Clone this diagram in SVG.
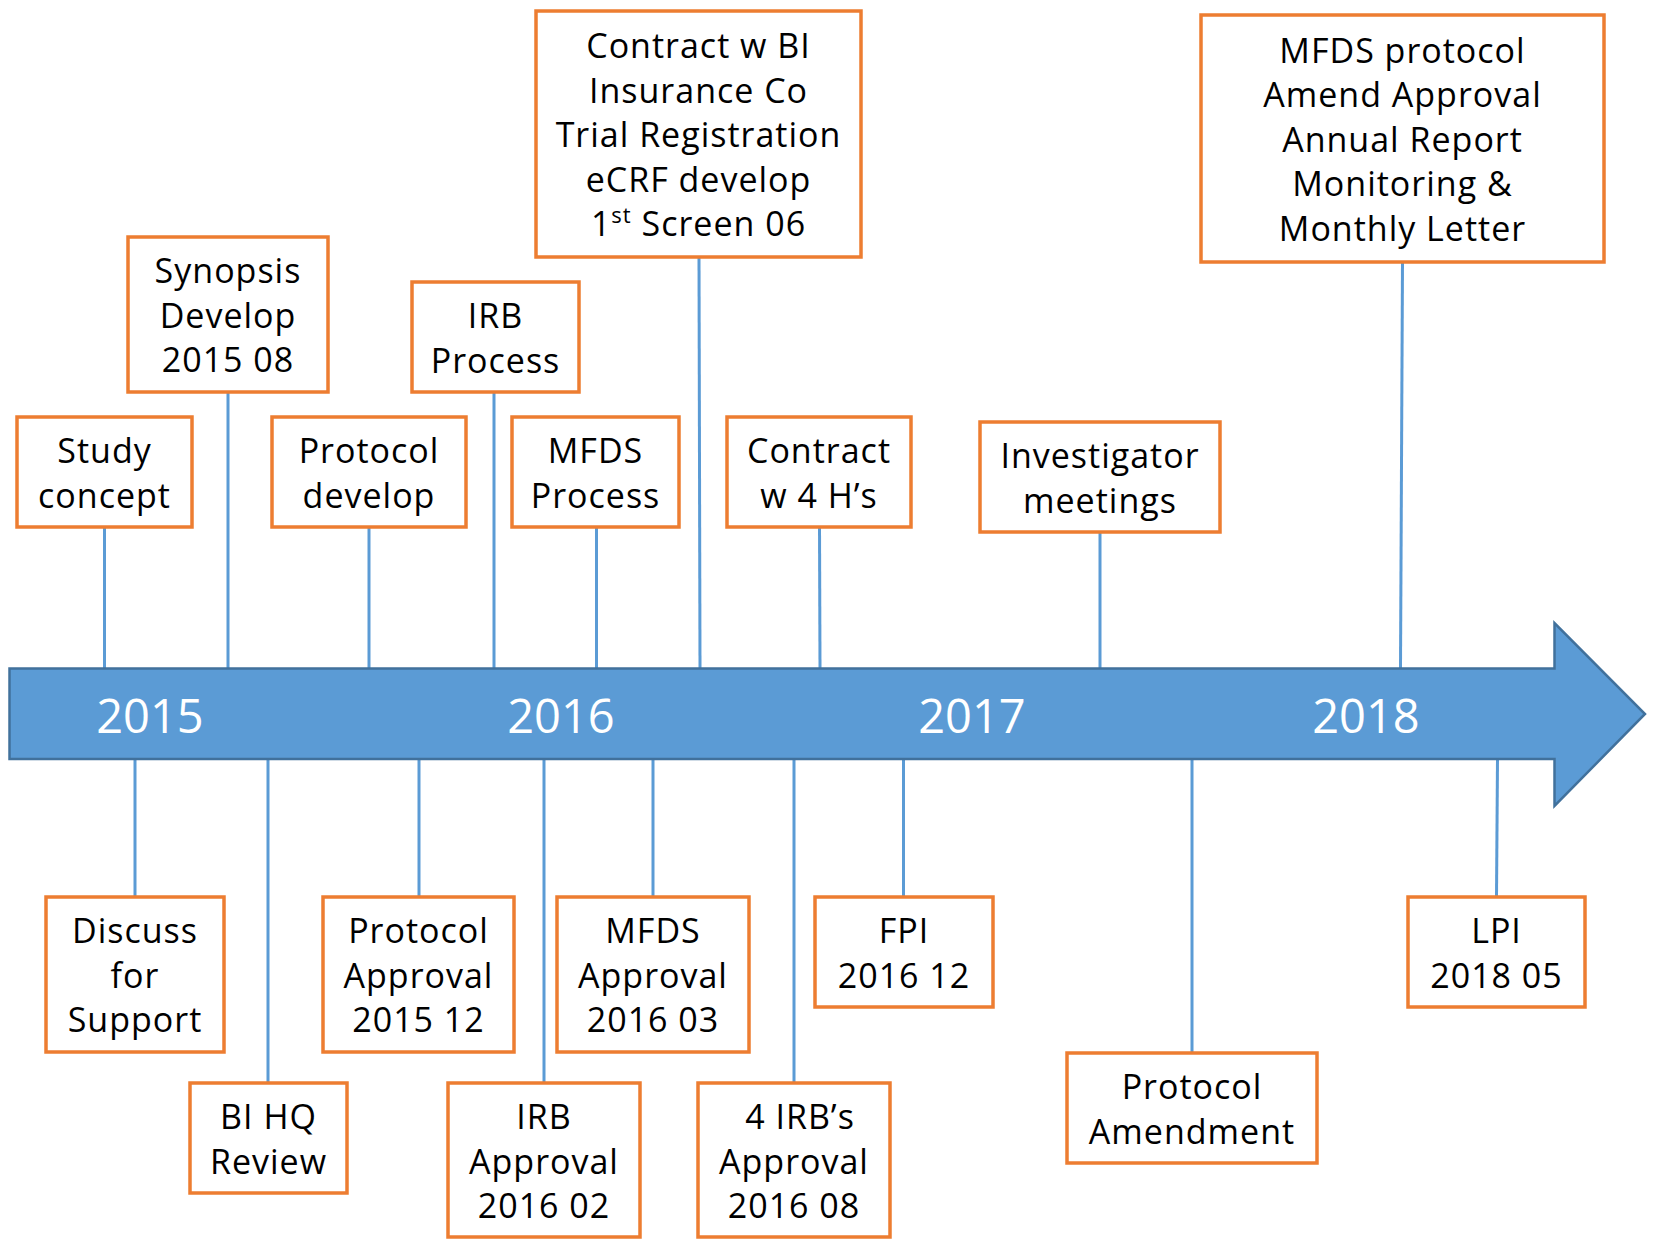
<svg xmlns="http://www.w3.org/2000/svg" width="1656" height="1240" viewBox="0 0 1656 1240">
  <style>
    .box { fill: #ffffff; stroke: #ED7D31; stroke-width: 3.5; }
    .lbl { font-family: "Open Sans", "Noto Sans", "Liberation Sans", sans-serif; font-size: 34px; letter-spacing: 1px; fill: #000000; text-anchor: middle; }
    .yr { font-family: "Open Sans", "Noto Sans", "Liberation Sans", sans-serif; font-size: 47px; fill: #ffffff; text-anchor: middle; }
    .link { stroke: #5B9BD5; stroke-width: 3; fill: none; }
  </style>
  <rect width="1656" height="1240" fill="#ffffff"/>

  <!-- vertical ties from each milestone to the timeline -->
  <g id="connectors">
    <line class="link" x1="104.5" y1="527" x2="104.5" y2="668"/>
    <line class="link" x1="228" y1="392" x2="228" y2="668"/>
    <line class="link" x1="369" y1="527" x2="369" y2="668"/>
    <line class="link" x1="494" y1="392" x2="494" y2="668"/>
    <line class="link" x1="596.5" y1="527" x2="596.5" y2="668"/>
    <line class="link" x1="699" y1="257" x2="700" y2="668"/>
    <line class="link" x1="819.5" y1="527" x2="820" y2="668"/>
    <line class="link" x1="1100" y1="532" x2="1100" y2="668"/>
    <line class="link" x1="1402.5" y1="262" x2="1400.5" y2="668"/>

    <line class="link" x1="135" y1="759" x2="135" y2="897"/>
    <line class="link" x1="268" y1="759" x2="268" y2="1083"/>
    <line class="link" x1="419" y1="759" x2="419" y2="897"/>
    <line class="link" x1="544" y1="759" x2="544" y2="1083"/>
    <line class="link" x1="653" y1="759" x2="653" y2="897"/>
    <line class="link" x1="794" y1="759" x2="794" y2="1083"/>
    <line class="link" x1="903.5" y1="759" x2="903.5" y2="897"/>
    <line class="link" x1="1192" y1="759" x2="1192" y2="1053"/>
    <line class="link" x1="1497.5" y1="759" x2="1496.5" y2="897"/>
  </g>

  <!-- timeline arrow with year marks -->
  <g id="timeline">
    <path d="M9.5 668.5 H1554.5 V623 L1645 714 L1554.5 806 V759 H9.5 Z" fill="#5B9BD5" stroke="#41719C" stroke-width="2.5" stroke-linejoin="miter"/>
    <text class="yr" x="150" y="733">2015</text>
    <text class="yr" x="561" y="733">2016</text>
    <text class="yr" x="972" y="733">2017</text>
    <text class="yr" x="1366" y="733">2018</text>
  </g>

  <!-- milestones above the line -->
  <g id="study-concept">
    <rect class="box" x="17" y="417" width="175" height="110"/>
    <text class="lbl" x="104.5" y="463">Study</text>
    <text class="lbl" x="104.5" y="507.5">concept</text>
  </g>
  <g id="synopsis">
    <rect class="box" x="128" y="237" width="200" height="155"/>
    <text class="lbl" x="228" y="283">Synopsis</text>
    <text class="lbl" x="228" y="327.5">Develop</text>
    <text class="lbl" x="228" y="372">2015 08</text>
  </g>
  <g id="protocol-develop">
    <rect class="box" x="272" y="417" width="194" height="110"/>
    <text class="lbl" x="369" y="463">Protocol</text>
    <text class="lbl" x="369" y="507.5">develop</text>
  </g>
  <g id="irb-process">
    <rect class="box" x="412" y="282" width="167" height="110"/>
    <text class="lbl" x="495.5" y="328">IRB</text>
    <text class="lbl" x="495.5" y="372.5">Process</text>
  </g>
  <g id="mfds-process">
    <rect class="box" x="512" y="417" width="167" height="110"/>
    <text class="lbl" x="595.5" y="463">MFDS</text>
    <text class="lbl" x="595.5" y="507.5">Process</text>
  </g>
  <g id="contract-bi">
    <rect class="box" x="536" y="11" width="325" height="246"/>
    <text class="lbl" x="698.5" y="58">Contract w BI</text>
    <text class="lbl" x="698.5" y="102.5">Insurance Co</text>
    <text class="lbl" x="698.5" y="147">Trial Registration</text>
    <text class="lbl" x="698.5" y="191.5">eCRF develop</text>
    <text class="lbl" x="698.5" y="236">1<tspan dy="-13" font-size="22">st</tspan><tspan dy="13"> Screen 06</tspan></text>
  </g>
  <g id="contract-4h">
    <rect class="box" x="727" y="417" width="184" height="110"/>
    <text class="lbl" x="819" y="463">Contract</text>
    <text class="lbl" x="819" y="507.5">w 4 H’s</text>
  </g>
  <g id="investigator-meetings">
    <rect class="box" x="980" y="422" width="240" height="110"/>
    <text class="lbl" x="1100" y="468">Investigator</text>
    <text class="lbl" x="1100" y="512.5">meetings</text>
  </g>
  <g id="mfds-amend">
    <rect class="box" x="1201" y="15" width="403" height="247"/>
    <text class="lbl" x="1402.5" y="62.5">MFDS protocol</text>
    <text class="lbl" x="1402.5" y="107">Amend Approval</text>
    <text class="lbl" x="1402.5" y="151.5">Annual Report</text>
    <text class="lbl" x="1402.5" y="196">Monitoring &amp;</text>
    <text class="lbl" x="1402.5" y="240.5">Monthly Letter</text>
  </g>

  <!-- milestones below the line -->
  <g id="discuss-support">
    <rect class="box" x="46" y="897" width="178" height="155"/>
    <text class="lbl" x="135" y="943">Discuss</text>
    <text class="lbl" x="135" y="987.5">for</text>
    <text class="lbl" x="135" y="1032">Support</text>
  </g>
  <g id="bi-hq-review">
    <rect class="box" x="190" y="1083" width="157" height="110"/>
    <text class="lbl" x="268.5" y="1129">BI HQ</text>
    <text class="lbl" x="268.5" y="1173.5">Review</text>
  </g>
  <g id="protocol-approval">
    <rect class="box" x="323" y="897" width="191" height="155"/>
    <text class="lbl" x="418.5" y="943">Protocol</text>
    <text class="lbl" x="418.5" y="987.5">Approval</text>
    <text class="lbl" x="418.5" y="1032">2015 12</text>
  </g>
  <g id="irb-approval">
    <rect class="box" x="448" y="1083" width="192" height="154"/>
    <text class="lbl" x="544" y="1129">IRB</text>
    <text class="lbl" x="544" y="1173.5">Approval</text>
    <text class="lbl" x="544" y="1218">2016 02</text>
  </g>
  <g id="mfds-approval">
    <rect class="box" x="557" y="897" width="192" height="155"/>
    <text class="lbl" x="653" y="943">MFDS</text>
    <text class="lbl" x="653" y="987.5">Approval</text>
    <text class="lbl" x="653" y="1032">2016 03</text>
  </g>
  <g id="four-irb-approval">
    <rect class="box" x="698" y="1083" width="192" height="154"/>
    <text class="lbl" x="800" y="1129">4 IRB’s</text>
    <text class="lbl" x="794" y="1173.5">Approval</text>
    <text class="lbl" x="794" y="1218">2016 08</text>
  </g>
  <g id="fpi">
    <rect class="box" x="815" y="897" width="178" height="110"/>
    <text class="lbl" x="904" y="943">FPI</text>
    <text class="lbl" x="904" y="987.5">2016 12</text>
  </g>
  <g id="protocol-amendment">
    <rect class="box" x="1067" y="1053" width="250" height="110"/>
    <text class="lbl" x="1192" y="1099">Protocol</text>
    <text class="lbl" x="1192" y="1143.5">Amendment</text>
  </g>
  <g id="lpi">
    <rect class="box" x="1408" y="897" width="177" height="110"/>
    <text class="lbl" x="1496.5" y="943">LPI</text>
    <text class="lbl" x="1496.5" y="987.5">2018 05</text>
  </g>
</svg>
